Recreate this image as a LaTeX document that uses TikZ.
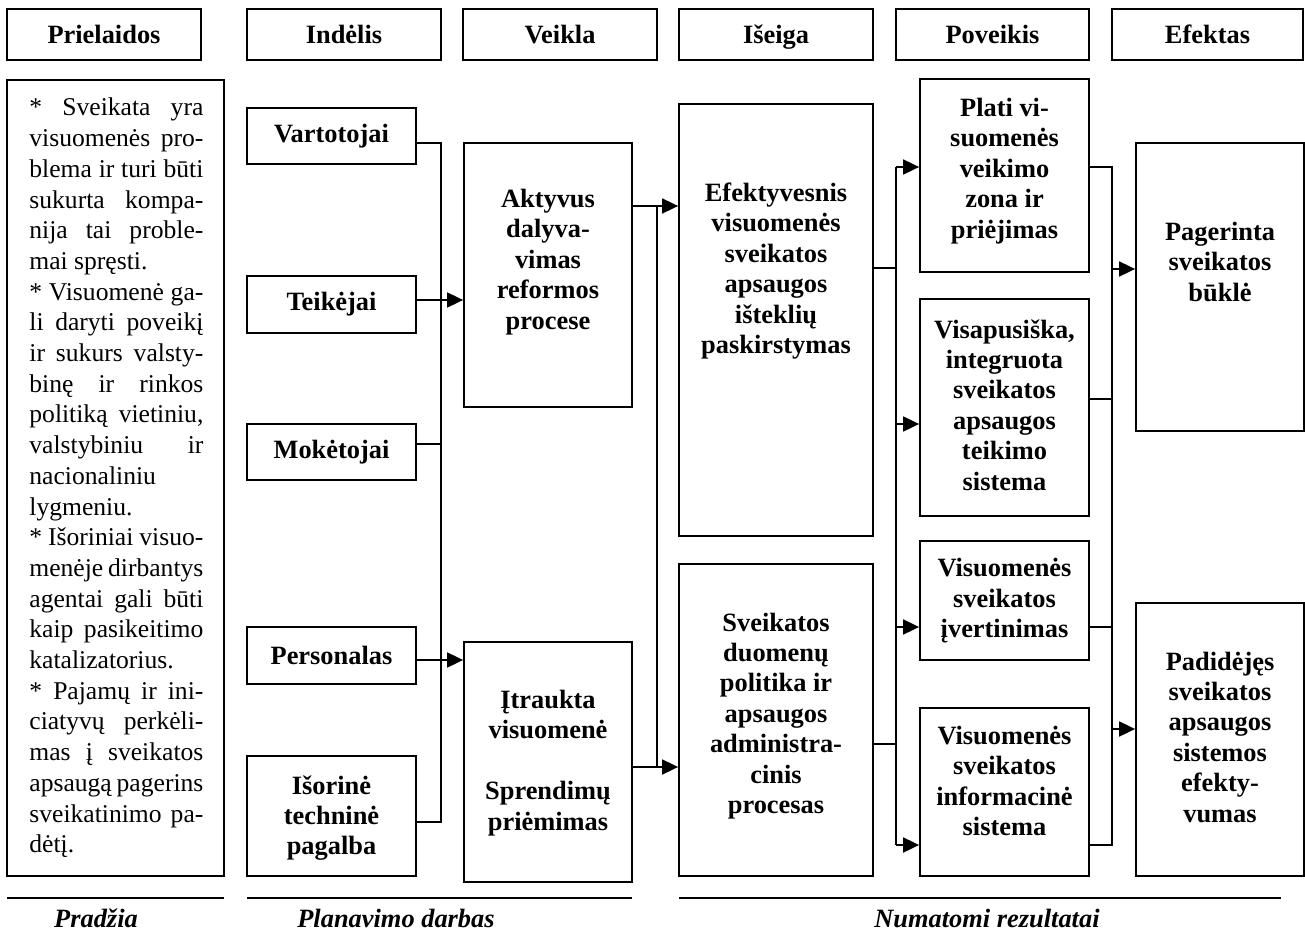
\documentclass[tikz,border=0pt]{standalone}
\usepackage{fontspec}
\setmainfont{Liberation Serif}
\usetikzlibrary{arrows.meta}
\newcommand\jline[1]{\makebox[\linewidth][s]{#1}\par}
\newcommand\lline[1]{#1\par}
\newcommand\mkbox[6]{\node[bx, minimum width={(#4-#2)*0.5pt}, minimum height={(#5-#3)*0.5pt}] (#1) at ({(#2+#4)/2},{(#3+#5)/2}) {#6};}
\newcommand\hph{\vphantom{Šg}}
\tikzset{
  bx/.style={draw, line width=0.9pt, inner sep=0pt, align=center, font=\fontsize{13.2}{15.2}\selectfont\bfseries},
  lbl/.style={inner sep=0pt, align=center, font=\fontsize{13.2}{15.2}\selectfont\bfseries},
  conn/.style={line width=0.9pt},
  arr/.style={line width=0.9pt, -{Triangle[length=8pt,width=7.5pt]}},
  rule/.style={line width=1pt},
  foot/.style={inner sep=0pt, anchor=base, font=\fontsize{13.2}{15}\selectfont\bfseries\itshape}
}
\begin{document}
\begin{tikzpicture}[x=0.5pt,y=-0.5pt]
\useasboundingbox (0,0) rectangle (1305,936);
% headers
\mkbox{hPri}{7}{9}{201}{60}{\hph Prielaidos}
\mkbox{hInd}{247}{9}{441}{60}{\hph Indėlis}
\mkbox{hVei}{463}{9}{657}{60}{\hph Veikla}
\mkbox{hIse}{679}{9}{873}{60}{\hph Išeiga}
\mkbox{hPov}{896}{9}{1089}{60}{\hph Poveikis}
\mkbox{hEfe}{1112}{9}{1303}{60}{\hph Efektas}
% premises
\mkbox{prem}{7}{80}{224}{876}{}
\node[inner sep=0pt, anchor=base west] (premt) at (29,116) {\parbox[t]{87pt}{\fontsize{12.8}{15.35}\selectfont
\jline{* Sveikata yra}
\jline{visuomenės pro-}
\jline{blema ir turi būti}
\jline{sukurta kompa-}
\jline{nija tai proble-}
\lline{mai spręsti.}
\jline{* Visuomenė ga-}
\jline{li daryti poveikį}
\jline{ir sukurs valsty-}
\jline{binę ir rinkos}
\jline{politiką vietiniu,}
\jline{valstybiniu ir}
\lline{nacionaliniu}
\lline{lygmeniu.}
\jline{* Išoriniai visuo-}
\jline{menėje dirbantys}
\jline{agentai gali būti}
\jline{kaip pasikeitimo}
\lline{katalizatorius.}
\jline{* Pajamų ir ini-}
\jline{ciatyvų perkėli-}
\jline{mas į sveikatos}
\jline{apsaugą pagerins}
\jline{sveikatinimo pa-}
\lline{dėtį.}}};
% inputs
\mkbox{vart}{247}{108}{416}{164}{Vartotojai}
\mkbox{teik}{247}{276}{416}{333}{Teikėjai}
\mkbox{mok}{247}{424}{416}{480}{Mokėtojai}
\mkbox{pers}{247}{627}{416}{684}{Personalas}
\mkbox{isor}{247}{756}{416}{876}{}
\node[lbl] (isort) at (331.5,818) {Išorinė\\techninė\\pagalba};
% activities
\mkbox{akt}{464}{143}{632}{407}{}
\node[lbl] (aktt) at (548,262) {Aktyvus\\dalyva-\\vimas\\reformos\\procese};
\mkbox{itr}{464}{642}{632}{882}{}
\node[lbl] (itrt) at (548,763) {Įtraukta\\visuomenė\\[15.2pt]Sprendimų\\priėmimas};
% outputs
\mkbox{efek}{679}{104}{873}{536}{}
\node[lbl] (efekt) at (776,271) {Efektyvesnis\\visuomenės\\sveikatos\\apsaugos\\išteklių\\paskirstymas};
\mkbox{sdp}{679}{564}{873}{876}{}
\node[lbl] (sdpt) at (776,716) {Sveikatos\\duomenų\\politika ir\\apsaugos\\administra-\\cinis\\procesas};
% impact
\mkbox{plati}{920}{79}{1089}{272}{}
\node[lbl] (platit) at (1004.5,171) {Plati vi-\\suomenės\\veikimo\\zona ir\\priėjimas};
\mkbox{visap}{920}{299}{1089}{516}{}
\node[lbl] (visapt) at (1004.5,405) {Visapusiška,\\integruota\\sveikatos\\apsaugos\\teikimo\\sistema};
\mkbox{ivert}{920}{541}{1089}{660}{}
\node[lbl] (ivertt) at (1004.5,601) {Visuomenės\\sveikatos\\įvertinimas};
\mkbox{inform}{920}{708}{1089}{876}{}
\node[lbl] (informt) at (1004.5,781) {Visuomenės\\sveikatos\\informacinė\\sistema};
% effects
\mkbox{pager}{1136}{143}{1304}{431}{}
\node[lbl] (pagert) at (1220,262) {Pagerinta\\sveikatos\\būklė};
\mkbox{padid}{1136}{603}{1304}{876}{}
\node[lbl] (padidt) at (1220,737) {Padidėjęs\\sveikatos\\apsaugos\\sistemos\\efekty-\\vumas};
% bus 1 (inputs -> activities)
\coordinate (b1top) at (441,143);
\coordinate (b1t) at (441,300);
\coordinate (b1m) at (441,444);
\coordinate (b1p) at (441,660);
\coordinate (b1bot) at (441,822);
\draw[conn] (vart.east |- b1top) -- (b1top) -- (b1bot) -- (isor.east |- b1bot);
\draw[conn] (mok.east |- b1m) -- (b1m);
\draw[arr] (teik.east |- b1t) -- (akt.west |- b1t);
\draw[arr] (pers.east |- b1p) -- (itr.west |- b1p);
% bus 2 (activities -> outputs)
\coordinate (b2top) at (657,206);
\coordinate (b2bot) at (657,767);
\draw[conn] (akt.east |- b2top) -- (b2top) -- (b2bot);
\draw[arr] (b2top) -- (efek.west |- b2top);
\draw[arr] (itr.east |- b2bot) -- (sdp.west |- b2bot);
% bus 3 (outputs -> impact)
\coordinate (b3top) at (896,167);
\coordinate (b3e) at (896,268);
\coordinate (b3v) at (896,424);
\coordinate (b3i) at (896,627);
\coordinate (b3s) at (896,744);
\coordinate (b3bot) at (896,845);
\draw[conn] (efek.east |- b3e) -- (b3e);
\draw[conn] (sdp.east |- b3s) -- (b3s);
\draw[conn] (b3top) -- (b3bot);
\draw[arr] (b3top) -- (plati.west |- b3top);
\draw[arr] (b3v) -- (visap.west |- b3v);
\draw[arr] (b3i) -- (ivert.west |- b3i);
\draw[arr] (b3bot) -- (inform.west |- b3bot);
% bus 4 (impact -> effects)
\coordinate (b4top) at (1112,167);
\coordinate (b4v) at (1112,399);
\coordinate (b4i) at (1112,627);
\coordinate (b4bot) at (1112,845);
\coordinate (b4p) at (1112,269);
\coordinate (b4d) at (1112,729);
\draw[conn] (plati.east |- b4top) -- (b4top) -- (b4bot) -- (inform.east |- b4bot);
\draw[conn] (visap.east |- b4v) -- (b4v);
\draw[conn] (ivert.east |- b4i) -- (b4i);
\draw[arr] (b4p) -- (pager.west |- b4p);
\draw[arr] (b4d) -- (padid.west |- b4d);
% footer
\coordinate (r1a) at (7,898); \coordinate (r1b) at (224,898);
\coordinate (r2a) at (247,898); \coordinate (r2b) at (632,898);
\coordinate (r3a) at (679,898); \coordinate (r3b) at (1281,898);
\draw[rule] (r1a) -- (r1b);
\draw[rule] (r2a) -- (r2b);
\draw[rule] (r3a) -- (r3b);
\node[foot] (f1) at (96,927) {Pradžia};
\node[foot] (f2) at (396,927) {Planavimo darbas};
\node[foot] (f3) at (987,927) {Numatomi rezultatai};
\end{tikzpicture}
\end{document}
